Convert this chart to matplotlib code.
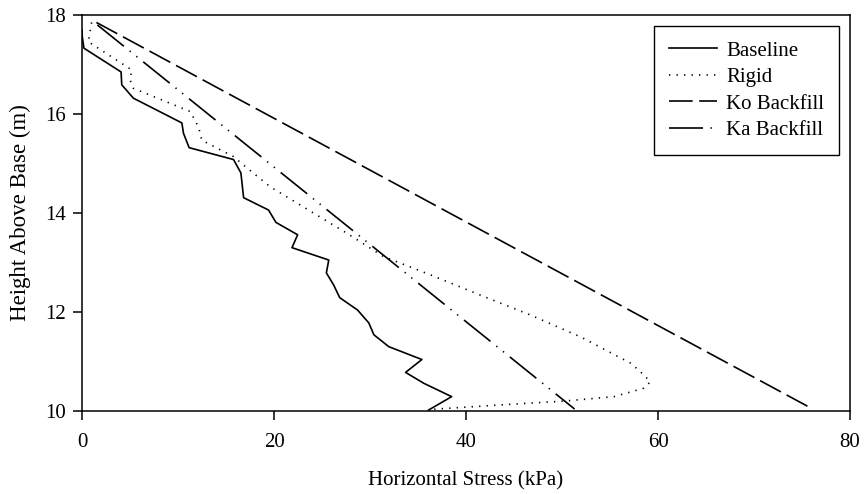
import matplotlib
matplotlib.use("Agg")
import matplotlib.pyplot as plt

# Baseline wall, measured profile (height m, stress kPa)
baseline_height = [17.70, 17.56, 17.33, 16.85, 16.59, 16.32, 15.82, 15.61, 15.32, 15.08,
                   14.81, 14.31, 14.06, 13.81, 13.56, 13.30, 13.05, 12.79, 12.55, 12.29,
                   12.04, 11.78, 11.54, 11.30, 11.04, 10.78, 10.56, 10.29, 10.02]
baseline_stress = [0.0, 0.03, 0.2, 4.07, 4.14, 5.35, 10.4, 10.57, 11.16, 15.78,
                   16.55, 16.83, 19.43, 20.2, 22.46, 21.87, 25.7, 25.45, 26.2, 26.84,
                   28.7, 29.87, 30.4, 31.95, 35.4, 33.7, 35.6, 38.5, 36.1]

# Rigid wall
rigid_height = [17.85, 17.46, 16.89, 16.69, 16.52, 16.05, 15.74, 15.47, 15.14, 14.94,
                14.53, 14.20, 13.59, 13.12, 12.75, 12.34, 11.94, 11.50, 10.96, 10.73,
                10.59, 10.46, 10.29, 10.20, 10.14, 10.03]
rigid_stress = [1.0, 0.66, 5.18, 5.0, 5.35, 11.27, 12.13, 12.48, 15.78, 17.0,
                19.6, 22.4, 27.6, 31.4, 36.3, 41.5, 46.7, 51.9, 57.2, 58.5,
                59.2, 58.5, 55.4, 50.2, 45.0, 36.1]

# At-rest and active backfill pressures
ko_height = [17.85, 10.04]
ko_stress = [1.5, 76.1]
ka_height = [17.80, 10.04]
ka_stress = [1.6, 51.3]

x_ticks = [0, 20, 40, 60, 80]
y_ticks = [10, 12, 14, 16, 18]

plt.rcParams["font.family"] = ["Liberation Serif", "DejaVu Serif"]

LW = 1.2

fig = plt.figure(figsize=(8.65, 4.94), dpi=100)
ax = fig.add_axes([0.0948, 0.168, 0.888, 0.8016])

ax.plot(baseline_stress, baseline_height, color="black", lw=LW, label="Baseline")
ax.plot(rigid_stress, rigid_height, color="black", lw=LW,
        linestyle=(0, (0.8, 3.7)), label="Rigid")
ax.plot(ko_stress, ko_height, color="black", lw=LW,
        linestyle=(0, (14.2, 3.9)), label="Ko Backfill")
ax.plot(ka_stress, ka_height, color="black", lw=LW,
        linestyle=(0, (20.4, 4.5, 0.8, 4.3, 0.8, 4.5)), label="Ka Backfill")

ax.set_xlim(0, 80)
ax.set_ylim(10, 18)
ax.set_xticks(x_ticks)
ax.set_yticks(y_ticks)
ax.tick_params(axis="both", direction="out", length=6.5, width=1.1,
               labelsize=15, colors="black")
ax.tick_params(axis="x", pad=9)
ax.tick_params(axis="y", pad=5)
for spine in ax.spines.values():
    spine.set_linewidth(1.1)

ax.set_xlabel("Horizontal Stress (kPa)", fontsize=15, labelpad=14)
ax.set_ylabel("Height Above Base (m)", fontsize=16.5, labelpad=10)

leg = ax.legend(loc="upper right", fontsize=15, frameon=True, fancybox=False,
                edgecolor="black", framealpha=1.0, handlelength=2.3,
                labelspacing=0.33, borderpad=0.7, borderaxespad=0.55,
                handletextpad=0.45)
leg.get_frame().set_linewidth(1.0)

fig.savefig("out.png", dpi=100)
